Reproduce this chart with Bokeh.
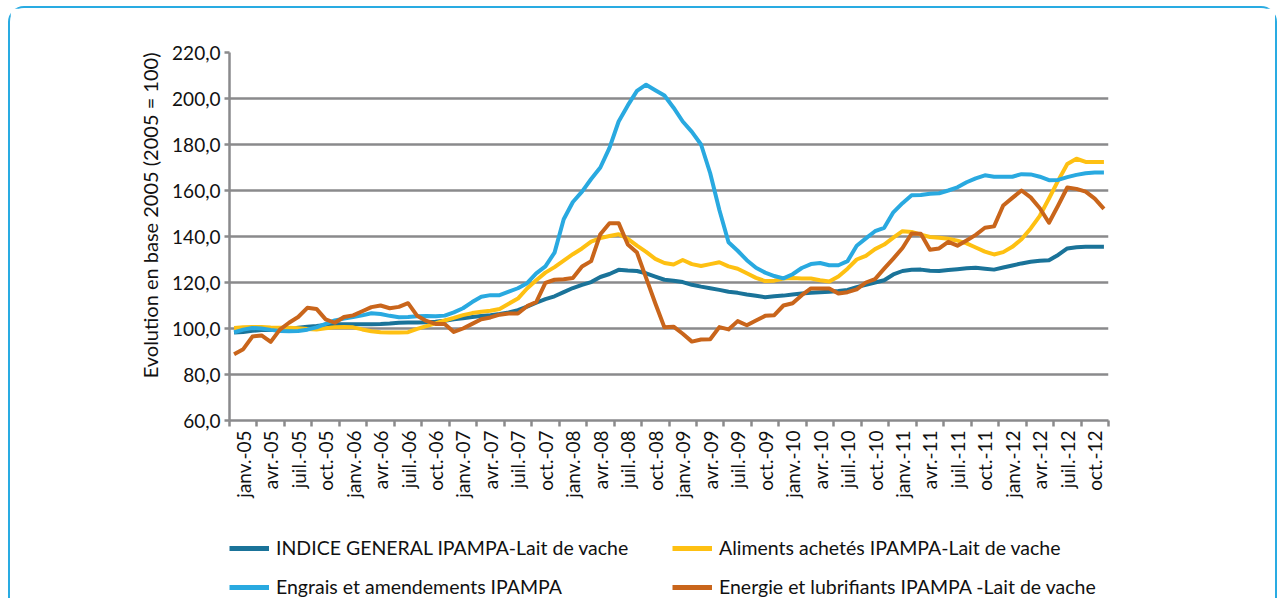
from bokeh.plotting import figure
from bokeh.layouts import column
from bokeh.models import FixedTicker, Legend, LegendItem, Range1d, ColumnDataSource, Title
from bokeh.embed import file_html
from bokeh.resources import INLINE

# ---- data ----
month_names = ["janv.", "févr.", "mars", "avr.", "mai", "juin",
               "juil.", "août", "sept.", "oct.", "nov.", "déc."]
years = ["05", "06", "07", "08", "09", "10", "11", "12"]
months = [f"{m}-{y}" for y in years for m in month_names]

indice_general = [
    98.3, 98.5, 99.0, 99.3, 99.4, 99.6, 99.8, 100.3, 100.8, 101.1, 101.5, 101.8,
    101.9, 101.9, 101.9, 101.9, 102.0, 102.2, 102.5, 102.6, 102.6, 102.7, 102.9, 103.4,
    104.0, 104.5, 105.0, 105.4, 105.8, 106.3, 107.0, 108.0, 109.5, 111.2, 112.8, 114.0,
    115.8, 117.6, 119.0, 120.2, 122.4, 123.7, 125.5, 125.2, 125.0, 124.0, 122.6, 121.2,
    120.8, 120.2, 119.0, 118.2, 117.5, 116.8, 116.0, 115.5, 114.8, 114.2, 113.6, 114.0,
    114.3, 114.8, 115.2, 115.5, 115.8, 116.0, 116.3, 116.8, 118.0, 119.0, 120.0, 121.0,
    123.5, 125.0, 125.5, 125.6, 125.1, 125.0, 125.4, 125.8, 126.2, 126.4, 126.0, 125.6,
    126.5, 127.4, 128.3, 129.0, 129.5, 129.7, 132.0, 134.8, 135.3, 135.5, 135.5, 135.5,
]
aliments = [
    100.2, 100.5, 100.7, 100.6, 100.4, 100.3, 100.3, 100.1, 99.8, 99.6, 100.1, 100.5,
    100.7, 100.5, 99.6, 98.8, 98.4, 98.3, 98.3, 98.4, 99.8, 101.0, 102.2, 103.5,
    104.6, 105.8, 106.7, 107.3, 107.7, 108.5, 110.8, 113.0, 117.4, 121.0, 124.3, 126.7,
    129.5, 132.3, 134.8, 137.8, 139.3, 140.2, 141.0, 139.0, 136.0, 133.3, 130.3, 128.5,
    127.8, 129.8, 128.0, 127.2, 128.0, 128.8, 127.0, 126.0, 124.0, 122.0, 120.6, 120.8,
    121.7, 122.0, 121.7, 121.7, 121.0, 120.4, 122.6, 126.0, 130.0, 131.6, 134.5, 136.5,
    139.5, 142.3, 142.0, 140.8, 139.8, 139.5, 139.0, 138.2, 137.0, 135.2, 133.4, 132.2,
    133.2, 135.5, 138.8, 143.5, 149.0, 156.5, 164.3, 171.5, 173.8, 172.4, 172.4, 172.4,
]
engrais = [
    98.3, 99.5, 100.2, 100.0, 99.4, 98.9, 98.8, 98.9, 99.5, 100.5, 102.0, 103.5,
    104.3, 105.0, 105.7, 106.6, 106.3, 105.5, 104.9, 105.0, 105.3, 105.4, 105.3, 105.6,
    107.0, 108.8, 111.5, 113.8, 114.5, 114.5, 116.0, 117.5, 119.7, 124.0, 127.0, 133.0,
    147.5, 155.0, 159.5, 165.0, 170.0, 178.5, 190.0, 197.0, 203.3, 206.0, 203.6, 201.3,
    196.0, 190.0, 185.5, 180.0, 167.5, 151.5, 137.5, 133.8, 129.7, 126.4, 124.3, 122.8,
    121.8, 123.6, 126.3, 128.0, 128.5, 127.5, 127.5, 129.3, 136.0, 139.2, 142.3, 143.8,
    150.5, 154.5, 157.9, 158.0, 158.6, 158.8, 160.0, 161.4, 163.6, 165.3, 166.6, 166.0,
    166.0, 166.0, 167.1, 167.0, 166.0, 164.5, 164.6, 165.8, 166.8, 167.5, 167.8, 167.8,
]
energie = [
    88.8, 91.0, 96.5, 97.0, 94.2, 99.5, 102.5, 105.0, 109.0, 108.5, 104.0, 102.5,
    105.0, 105.7, 107.5, 109.3, 110.0, 108.8, 109.4, 111.0, 105.5, 103.3, 102.0, 102.0,
    98.5, 100.0, 102.0, 104.0, 104.8, 106.0, 106.5, 106.5, 109.7, 111.5, 119.8, 121.2,
    121.4, 122.0, 127.0, 129.3, 141.0, 145.8, 145.8, 136.5, 133.0, 122.0, 111.0, 100.5,
    100.8, 97.7, 94.3, 95.2, 95.3, 100.6, 99.6, 103.2, 101.4, 103.5, 105.5, 105.8,
    110.0, 111.0, 114.5, 117.4, 117.4, 117.4, 115.2, 115.8, 117.0, 120.0, 121.5, 126.0,
    130.4, 135.0, 141.3, 141.2, 134.2, 134.8, 137.7, 136.0, 138.3, 140.7, 143.8, 144.4,
    153.5, 156.8, 160.0, 157.0, 152.3, 146.0, 153.5, 161.3, 160.7, 159.5, 156.5, 152.0,
]

series_labels = [
    "INDICE GENERAL IPAMPA-Lait de vache",
    "Aliments achetés IPAMPA-Lait de vache",
    "Engrais et amendements IPAMPA",
    "Energie et lubrifiants IPAMPA -Lait de vache",
]
series_colors = ["#1A7399", "#FEC012", "#29A9E0", "#C9651B"]

y_ticks = [60, 80, 100, 120, 140, 160, 180, 200, 220]
y_tick_labels = ["60,0", "80,0", "100,0", "120,0", "140,0", "160,0", "180,0", "200,0", "220,0"]
y_title = "Evolution en base 2005 (2005 = 100)"

# ---- chart ----
FONT = "Lato"
GRID = "#8A8A8C"
FRAME_BLUE = "#29ABE2"
W = 1269

x = list(range(len(months)))
src = ColumnDataSource(dict(x=x, a=indice_general, b=aliments, c=engrais, d=energie))

p = figure(width=W, height=500, x_range=Range1d(-0.5, len(months) - 0.5),
           y_range=Range1d(60, 220), output_backend="svg", toolbar_location=None,
           min_border_left=219, min_border_right=171, min_border_top=44,
           min_border_bottom=88)
p.styles = {"border-top": f"2px solid {FRAME_BLUE}", "border-left": f"2px solid {FRAME_BLUE}",
            "border-right": f"2px solid {FRAME_BLUE}", "border-radius": "16px 16px 0 0"}
p.outline_line_color = None

for col, color in zip(["a", "b", "c", "d"], series_colors):
    p.line("x", col, source=src, line_color=color, line_width=4, line_join="round")

# x axis: labels centred on each quarter, tick marks between quarters
lab_pos = [i + 1 for i in range(0, len(months), 3)]
tick_pos = [i - 0.5 for i in range(0, len(months) + 1, 3)]
p.xaxis.ticker = FixedTicker(ticks=lab_pos, minor_ticks=tick_pos)
p.xaxis.major_label_overrides = {pos: months[pos - 1] for pos in lab_pos}
p.xaxis.major_label_orientation = 3.14159265 / 2
p.xaxis.major_tick_line_color = None
p.xaxis.major_tick_out = 6
p.xaxis.major_tick_in = 0
p.xaxis.minor_tick_line_color = GRID
p.xaxis.minor_tick_line_width = 2.5
p.xaxis.minor_tick_out = 6
p.xaxis.minor_tick_in = 0
p.xaxis.axis_line_color = GRID
p.xaxis.axis_line_width = 2.5
p.xaxis.major_label_text_font = FONT
p.xaxis.major_label_text_font_size = "19px"
p.xaxis.major_label_text_color = "#111111"
p.xaxis.major_label_standoff = 4

p.yaxis.ticker = FixedTicker(ticks=y_ticks)
p.yaxis.major_label_overrides = {t: l for t, l in zip(y_ticks, y_tick_labels)}
p.yaxis.minor_tick_line_color = None
p.yaxis.major_tick_line_color = GRID
p.yaxis.major_tick_line_width = 2.5
p.yaxis.major_tick_out = 5
p.yaxis.major_tick_in = 0
p.yaxis.axis_line_color = GRID
p.yaxis.axis_line_width = 2.5
p.yaxis.major_label_text_font = FONT
p.yaxis.major_label_text_font_size = "19px"
p.yaxis.major_label_text_color = "#111111"
p.yaxis.major_label_standoff = 4

# y-axis title, aligned toward the top of the frame as in the original
p.add_layout(Title(text=y_title, align="right", offset=0, standoff=16,
                   text_font=FONT, text_font_size="20px", text_font_style="normal",
                   text_color="#111111"), "left")

p.xgrid.grid_line_color = None
p.ygrid.ticker = FixedTicker(ticks=y_ticks)
p.ygrid.grid_line_color = GRID
p.ygrid.grid_line_width = 2.5

# ---- legend strip (separate canvas below the chart) ----
NAN = float("nan")
pl = figure(width=W, height=92, output_backend="svg", toolbar_location=None,
            x_axis_type=None, y_axis_type=None, min_border=0,
            x_range=Range1d(0, 1), y_range=Range1d(0, 1))
pl.styles = {"border-left": f"2px solid {FRAME_BLUE}", "border-right": f"2px solid {FRAME_BLUE}"}
pl.outline_line_color = None
pl.xgrid.visible = False
pl.ygrid.visible = False
keys = [pl.line(x=[NAN, NAN], y=[NAN, NAN], line_color=c, line_width=5) for c in series_colors]

legend = Legend(
    items=[LegendItem(label=l, renderers=[r]) for l, r in zip(series_labels, keys)],
    orientation="horizontal", ncols=2, location=(0, 0),
    glyph_width=40, glyph_height=20, label_height=20, label_width=380,
    label_standoff=7, spacing=16, padding=0, margin=0,
    label_text_font=FONT, label_text_font_size="19.5px", label_text_color="#111111",
    border_line_color=None, background_fill_alpha=0,
)
pl.add_layout(legend, "center")

page = column(p, pl, spacing=0)
page.styles = {"margin-left": "8px", "margin-top": "6px"}

open("out.html", "w").write(file_html(page, INLINE))
